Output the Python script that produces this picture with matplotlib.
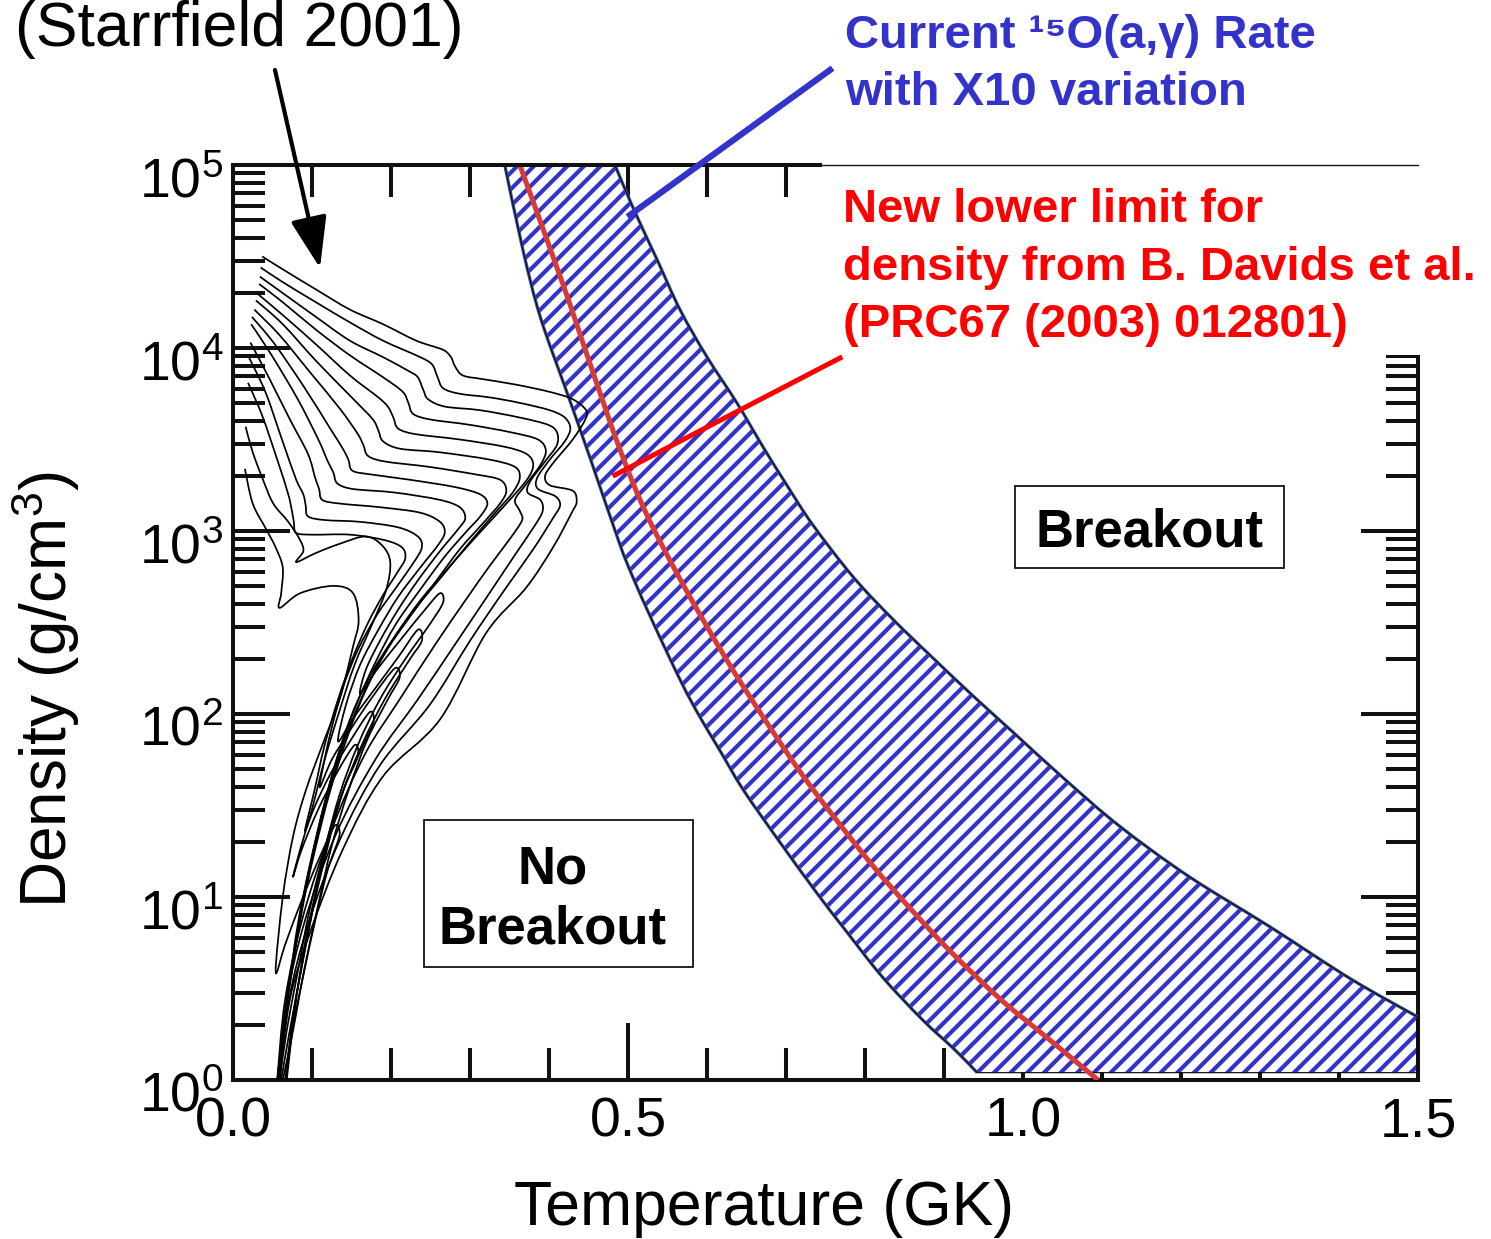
import numpy as np
import matplotlib
matplotlib.use("Agg")
import matplotlib.pyplot as plt
import matplotlib.transforms as mtransforms
from matplotlib.patches import Rectangle, PathPatch
from matplotlib.lines import Line2D
from matplotlib.path import Path
from matplotlib.ticker import FixedLocator, NullFormatter, LogLocator, LogFormatterSciNotation

plt.rcParams['font.family'] = ['Liberation Sans', 'DejaVu Sans']
plt.rcParams['mathtext.fontset'] = 'custom'
plt.rcParams['mathtext.rm'] = 'Liberation Sans'
plt.rcParams['mathtext.it'] = 'Liberation Sans:italic'
plt.rcParams['mathtext.bf'] = 'Liberation Sans:bold'
plt.rcParams['hatch.linewidth'] = 3.0

# ---------------- data (T in GK, L = log10 density in g/cm3) ----------------
band_lo_T = [0.344, 0.367, 0.389, 0.423, 0.452, 0.490, 0.506, 0.532, 0.568, 0.591,
             0.616, 0.646, 0.692, 0.739, 0.775, 0.822, 0.873, 0.914, 0.942]
band_lo_L = [5.0, 4.536, 4.169, 3.754, 3.399, 2.923, 2.749, 2.497, 2.169, 1.984,
             1.803, 1.585, 1.301, 1.022, 0.820, 0.563, 0.328, 0.164, 0.04]
band_hi_T = [0.4835, 0.506, 0.537, 0.566, 0.600, 0.638, 0.671, 0.701, 0.734, 0.785,
             0.835, 0.886, 0.937, 0.987, 1.054, 1.122, 1.209, 1.313, 1.415, 1.500]
band_hi_L = [5.0, 4.770, 4.481, 4.208, 3.951, 3.699, 3.459, 3.251, 3.033, 2.749,
             2.519, 2.306, 2.098, 1.902, 1.639, 1.388, 1.115, 0.836, 0.552, 0.344]
band_floor_L = 0.04

davids_T = [0.363, 0.418, 0.452, 0.490, 0.524, 0.570, 0.625, 0.676, 0.730, 0.806,
            0.858, 0.909, 0.971, 1.028, 1.095]
davids_L = [5.0, 4.344, 3.913, 3.443, 3.087, 2.705, 2.295, 1.951, 1.612, 1.191,
            0.934, 0.699, 0.443, 0.240, 0.0]

c1_T = [0.037, 0.063, 0.105, 0.148, 0.190, 0.232, 0.266, 0.276, 0.281, 0.291, 0.316, 0.358,
        0.401, 0.430, 0.447, 0.446, 0.430, 0.405, 0.395, 0.401, 0.430, 0.435, 0.430, 0.405,
        0.371, 0.320, 0.262, 0.190, 0.139, 0.097, 0.072, 0.059]
c1_L = [4.50, 4.43, 4.32, 4.21, 4.13, 4.04, 3.99, 3.95, 3.90, 3.85, 3.83, 3.80, 3.76, 3.72,
        3.66, 3.61, 3.50, 3.37, 3.30, 3.25, 3.22, 3.16, 3.11, 2.91, 2.69, 2.44, 1.97, 1.66,
        1.26, 0.80, 0.44, 0.00]
c2_T = [0.035, 0.063, 0.105, 0.148, 0.190, 0.237, 0.252, 0.259, 0.266, 0.287, 0.325, 0.363,
        0.401, 0.420, 0.427, 0.420, 0.401, 0.385, 0.386, 0.408, 0.414, 0.405, 0.380, 0.344,
        0.300, 0.249, 0.186, 0.135, 0.095, 0.071, 0.058]
c2_L = [4.44, 4.36, 4.25, 4.14, 4.04, 3.95, 3.91, 3.84, 3.78, 3.75, 3.73, 3.70, 3.66, 3.62,
        3.56, 3.49, 3.39, 3.29, 3.23, 3.19, 3.14, 3.07, 2.90, 2.68, 2.40, 2.05, 1.72, 1.31,
        0.85, 0.44, 0.00]
c3_T = [0.034, 0.063, 0.105, 0.148, 0.190, 0.224, 0.234, 0.241, 0.247, 0.268, 0.313, 0.363,
        0.399, 0.410, 0.410, 0.395, 0.376, 0.373, 0.389, 0.392, 0.382, 0.357, 0.323, 0.281,
        0.234, 0.180, 0.130, 0.091, 0.068, 0.057]
c3_L = [4.39, 4.30, 4.17, 4.04, 3.95, 3.87, 3.84, 3.77, 3.72, 3.68, 3.66, 3.62, 3.58, 3.54,
        3.47, 3.38, 3.27, 3.21, 3.17, 3.11, 3.03, 2.87, 2.65, 2.38, 2.08, 1.75, 1.34, 0.87,
        0.44, 0.00]
c4_T = [0.033, 0.063, 0.105, 0.148, 0.190, 0.215, 0.222, 0.228, 0.249, 0.300, 0.351, 0.386,
        0.396, 0.389, 0.370, 0.357, 0.363, 0.366, 0.351, 0.325, 0.294, 0.256, 0.211, 0.167,
        0.125, 0.089, 0.066, 0.056]
c4_L = [4.35, 4.25, 4.10, 3.96, 3.84, 3.76, 3.70, 3.64, 3.61, 3.58, 3.54, 3.50, 3.44, 3.36,
        3.25, 3.17, 3.11, 3.06, 2.96, 2.81, 2.62, 2.38, 2.08, 1.78, 1.37, 0.90, 0.44, 0.00]
c5_T = [0.030, 0.063, 0.105, 0.148, 0.184, 0.196, 0.203, 0.209, 0.230, 0.287, 0.344, 0.372,
        0.380, 0.372, 0.344, 0.310, 0.275, 0.237, 0.201, 0.171, 0.148, 0.127, 0.108, 0.091,
        0.076, 0.065, 0.058]
c5_L = [4.30, 4.18, 4.02, 3.85, 3.73, 3.68, 3.62, 3.56, 3.53, 3.50, 3.46, 3.42, 3.36, 3.28,
        3.14, 2.98, 2.81, 2.62, 2.40, 2.19, 1.97, 1.69, 1.37, 1.04, 0.66, 0.33, 0.00]
c6_T = [0.029, 0.063, 0.105, 0.148, 0.177, 0.184, 0.190, 0.211, 0.262, 0.325, 0.357, 0.363,
        0.354, 0.332, 0.300, 0.266, 0.228, 0.195, 0.168, 0.146, 0.123, 0.104, 0.087, 0.073,
        0.063, 0.058]
c6_L = [4.26, 4.13, 3.93, 3.74, 3.61, 3.55, 3.49, 3.45, 3.43, 3.39, 3.35, 3.29, 3.21, 3.10,
        2.94, 2.76, 2.56, 2.35, 2.13, 1.89, 1.58, 1.26, 0.93, 0.57, 0.25, 0.00]
c7_T = [0.027, 0.059, 0.097, 0.135, 0.158, 0.165, 0.171, 0.192, 0.249, 0.306, 0.338, 0.346,
        0.338, 0.316, 0.287, 0.256, 0.222, 0.190, 0.163, 0.139, 0.119, 0.100, 0.085, 0.072,
        0.062, 0.057]
c7_L = [4.21, 4.07, 3.87, 3.67, 3.53, 3.47, 3.41, 3.38, 3.35, 3.31, 3.28, 3.22, 3.15, 3.04,
        2.90, 2.72, 2.52, 2.32, 2.09, 1.83, 1.53, 1.20, 0.87, 0.52, 0.22, 0.00]
c8_T = [0.024, 0.053, 0.091, 0.123, 0.139, 0.146, 0.151, 0.173, 0.224, 0.281, 0.313, 0.322,
        0.313, 0.294, 0.268, 0.237, 0.206, 0.180, 0.156, 0.134, 0.115, 0.097, 0.082, 0.070,
        0.061, 0.056]
c8_L = [4.17, 4.02, 3.78, 3.56, 3.45, 3.39, 3.33, 3.31, 3.28, 3.24, 3.20, 3.15, 3.08, 2.99,
        2.86, 2.68, 2.49, 2.28, 2.05, 1.79, 1.50, 1.17, 0.85, 0.49, 0.19, 0.00]
c9_T = [0.023, 0.049, 0.082, 0.108, 0.120, 0.127, 0.132, 0.151, 0.205, 0.262, 0.287, 0.294,
        0.285, 0.262, 0.234, 0.209, 0.186, 0.168, 0.161, 0.180, 0.211, 0.243, 0.262, 0.266,
        0.249, 0.218, 0.186, 0.158, 0.135, 0.116, 0.097, 0.081, 0.068, 0.059]
c9_L = [4.13, 3.96, 3.72, 3.50, 3.38, 3.32, 3.26, 3.23, 3.21, 3.17, 3.13, 3.07, 3.01, 2.89,
        2.73, 2.57, 2.40, 2.24, 2.11, 2.23, 2.40, 2.57, 2.66, 2.61, 2.49, 2.30, 2.08, 1.83,
        1.56, 1.26, 0.93, 0.57, 0.27, 0.00]
c10_T = [0.022, 0.044, 0.072, 0.095, 0.104, 0.109, 0.113, 0.135, 0.186, 0.237, 0.262, 0.268,
         0.259, 0.237, 0.209, 0.184, 0.161, 0.143, 0.133, 0.151, 0.180, 0.209, 0.234, 0.239,
         0.224, 0.192, 0.163, 0.138, 0.119, 0.101, 0.085, 0.071, 0.061]
c10_L = [4.03, 3.85, 3.61, 3.42, 3.29, 3.23, 3.17, 3.15, 3.13, 3.10, 3.05, 2.99, 2.92, 2.80,
         2.64, 2.46, 2.27, 2.05, 1.85, 1.97, 2.14, 2.31, 2.46, 2.40, 2.30, 2.08, 1.83, 1.56,
         1.26, 0.93, 0.57, 0.25, 0.00]
c11_T = [0.020, 0.041, 0.062, 0.080, 0.089, 0.092, 0.095, 0.116, 0.161, 0.209, 0.234, 0.239,
         0.229, 0.208, 0.182, 0.158, 0.138, 0.123, 0.113, 0.110, 0.125, 0.148, 0.176, 0.205,
         0.211, 0.196, 0.170, 0.146, 0.125, 0.108, 0.090, 0.076, 0.063]
c11_L = [3.95, 3.76, 3.50, 3.28, 3.20, 3.14, 3.08, 3.06, 3.05, 3.02, 2.97, 2.91, 2.83, 2.70,
         2.54, 2.35, 2.13, 1.89, 1.69, 1.60, 1.75, 1.91, 2.09, 2.25, 2.20, 2.08, 1.86, 1.58,
         1.28, 0.96, 0.60, 0.27, 0.00]
c12_T = [0.019, 0.037, 0.056, 0.070, 0.075, 0.077, 0.080, 0.100, 0.148, 0.192, 0.214, 0.218,
         0.209, 0.190, 0.170, 0.151, 0.133, 0.116, 0.103, 0.091, 0.104, 0.123, 0.148, 0.173,
         0.178, 0.165, 0.142, 0.123, 0.106, 0.091, 0.077, 0.066]
c12_L = [3.81, 3.63, 3.39, 3.20, 3.10, 3.05, 2.99, 2.98, 2.98, 2.95, 2.91, 2.85, 2.78, 2.65,
         2.49, 2.30, 2.08, 1.83, 1.58, 1.36, 1.50, 1.67, 1.85, 2.01, 1.96, 1.83, 1.61, 1.34,
         1.04, 0.71, 0.38, 0.00]
c13_T = [0.016, 0.025, 0.038, 0.051, 0.070, 0.085, 0.089, 0.080, 0.105, 0.135, 0.168, 0.189,
         0.199, 0.194, 0.176, 0.154, 0.135, 0.116, 0.100, 0.085, 0.076, 0.087, 0.108, 0.133,
         0.154, 0.158, 0.142, 0.123, 0.108, 0.092, 0.080, 0.068]
c13_L = [3.57, 3.43, 3.28, 3.15, 3.05, 2.95, 2.89, 2.83, 2.88, 2.93, 2.97, 2.92, 2.83, 2.68,
         2.49, 2.27, 2.02, 1.75, 1.48, 1.26, 1.11, 1.26, 1.48, 1.69, 1.83, 1.77, 1.61, 1.37,
         1.09, 0.77, 0.44, 0.00]
c14_T = [0.015, 0.025, 0.042, 0.054, 0.063, 0.061, 0.059, 0.085, 0.127, 0.152, 0.159, 0.152,
         0.135, 0.114, 0.092, 0.076, 0.063, 0.054, 0.066, 0.085, 0.108, 0.129, 0.135, 0.120,
         0.104, 0.089, 0.075, 0.067]
c14_L = [3.34, 3.15, 3.01, 2.91, 2.80, 2.66, 2.58, 2.66, 2.70, 2.66, 2.51, 2.37, 2.08, 1.84,
         1.58, 1.33, 1.00, 0.59, 0.74, 0.96, 1.20, 1.39, 1.34, 1.15, 0.87, 0.57, 0.27, 0.00]

x_major = [0.0, 0.5, 1.0, 1.5]
x_major_labels = ['0.0', '0.5', '1.0', '1.5']
x_minor = [0.1, 0.2, 0.3, 0.4, 0.6, 0.7, 0.8, 0.9, 1.1, 1.2, 1.3, 1.4]
y_major = [1, 10, 100, 1000, 10000, 100000]

# ---------------- figure ----------------
W, H = 1491, 1239
fig = plt.figure(figsize=(W / 100, H / 100), dpi=100)
ax = fig.add_axes([233 / W, 1 - 1080 / H, (1418 - 233) / W, (1080 - 165) / H])
ax.set_yscale('log')
ax.set_xlim(0, 1.5)
ax.set_ylim(1, 1e5)

BLUE = '#3333cc'
NAVY = '#34488c'
SX, SY = 790.0, 183.0   # screen scale of one unit of T / log10(rho), used for smoothing


def smooth(T, L):
    """Smooth (Catmull-Rom style) Bezier path through the points, in (T, log rho)."""
    P = np.column_stack([np.asarray(T, float) * SX, np.asarray(L, float) * SY])
    n = len(P)
    verts = [P[0]]
    codes = [Path.MOVETO]
    for i in range(n - 1):
        p0 = P[i - 1] if i > 0 else P[i]
        p1, p2 = P[i], P[i + 1]
        p3 = P[i + 2] if i + 2 < n else P[i + 1]
        seg = np.hypot(*(p2 - p1))
        t1 = (p2 - p0) / 6.0
        t2 = (p3 - p1) / 6.0
        for t in (t1, t2):
            nt = np.hypot(*t)
            if nt > 0.45 * seg and nt > 0:
                t *= 0.45 * seg / nt
        verts += [p1 + t1, p2 - t2, p2]
        codes += [Path.CURVE4] * 3
    V = np.array(verts)
    V[:, 0] /= SX
    V[:, 1] = 10 ** (V[:, 1] / SY)
    return V, codes


# band of current 15O(a,g) rate with x10 variation
vlo, clo = smooth(band_lo_T, band_lo_L)
vhi, chi = smooth(band_hi_T[::-1], band_hi_L[::-1])
chi = [Path.LINETO] + chi[1:]
band_verts = np.vstack([vlo, [[1.5, 10 ** band_floor_L]], vhi, [vlo[0]]])
band_codes = clo + [Path.LINETO] + chi + [Path.CLOSEPOLY]
band_path = Path(band_verts, band_codes)
ax.add_patch(PathPatch(band_path, facecolor='white', edgecolor=BLUE, hatch='//',
                       linewidth=0, zorder=2))
ax.add_patch(PathPatch(band_path, facecolor='none', edgecolor='black', linewidth=0.8, zorder=3))
for Tb, Lb in [(band_lo_T, band_lo_L), (band_hi_T, band_hi_L)]:
    v, c = smooth(Tb, Lb)
    ax.add_patch(PathPatch(Path(v, c), facecolor='none', edgecolor=NAVY, lw=2.3, zorder=3))
    ax.add_patch(PathPatch(Path(v, c), facecolor='none', edgecolor='black', lw=0.6, zorder=3))

# Davids lower limit
v, c = smooth(davids_T, davids_L)
ax.add_patch(PathPatch(Path(v, c), facecolor='none', edgecolor='#db3a34', lw=3.6, zorder=4,
                       capstyle='butt'))

# Starrfield (2001) nova trajectories
curves = [(c1_T, c1_L), (c2_T, c2_L), (c3_T, c3_L), (c4_T, c4_L), (c5_T, c5_L),
          (c6_T, c6_L), (c7_T, c7_L), (c8_T, c8_L), (c9_T, c9_L), (c10_T, c10_L),
          (c11_T, c11_L), (c12_T, c12_L), (c13_T, c13_L), (c14_T, c14_L)]
for ct, cl in curves:
    v, c = smooth(ct, cl)
    ax.add_patch(PathPatch(Path(v, c), facecolor='none', edgecolor='black', lw=1.25,
                           zorder=3, joinstyle='round'))

# ticks
ax.xaxis.set_major_locator(FixedLocator(x_major))
ax.set_xticklabels(x_major_labels)
ax.xaxis.set_minor_locator(FixedLocator(x_minor))
ax.xaxis.set_minor_formatter(NullFormatter())
ax.yaxis.set_major_locator(FixedLocator(y_major))
ax.yaxis.set_major_formatter(LogFormatterSciNotation())
ax.yaxis.set_minor_locator(LogLocator(base=10, subs=range(2, 10), numticks=20))
ax.yaxis.set_minor_formatter(NullFormatter())
ax.tick_params(axis='both', which='both', direction='in', top=True, right=True,
               width=2.9, color='#111111')
ax.tick_params(axis='both', which='major', length=41)
ax.tick_params(axis='both', which='minor', length=23)
ax.tick_params(axis='x', which='major', labelsize=40, pad=12)
ax.tick_params(axis='y', which='major', labelsize=40, pad=7)

for s in ['left', 'bottom', 'right']:
    ax.spines[s].set_linewidth(2.9)
    ax.spines[s].set_color('#111111')
ax.spines['top'].set_linewidth(1.0)
ax.plot([0, 0.746], [1e5, 1e5], color='#111111', lw=2.9, clip_on=False, zorder=6,
        solid_capstyle='butt')

# axis labels
ax.set_xlabel('Temperature (GK)', fontsize=45, va='center')
ax.xaxis.set_label_coords(0.4485, -0.140)
ax.set_ylabel('Density (g/cm$^{3}$)', fontsize=46, va='center')
ax.yaxis.set_label_coords(-0.1586, 0.427)

# region labels
ax.add_patch(Rectangle((0.6599, 0.5596), 0.227, 0.0896, transform=ax.transAxes,
                       facecolor='white', edgecolor='black', lw=1.2, zorder=5))
ax.text(0.7738, 0.598, 'Breakout', transform=ax.transAxes, ha='center', va='center',
        fontsize=38, fontweight='bold', zorder=6)
ax.add_patch(Rectangle((0.1612, 0.1235), 0.227, 0.1607, transform=ax.transAxes,
                       facecolor='white', edgecolor='black', lw=1.2, zorder=5))
ax.text(0.2700, 0.197, 'No\nBreakout', transform=ax.transAxes, ha='center', va='center',
        multialignment='center', linespacing=1.25, fontsize=38, fontweight='bold', zorder=6)

# white cover behind the red annotation (hides upper-right part of the frame)
fig.add_artist(Rectangle((822 / W, 1 - 355 / H), (W - 822) / W, (355 - 162) / H,
                         transform=fig.transFigure, facecolor='white', edgecolor='none',
                         zorder=5))
fig.add_artist(Line2D([0.746, 1.5], [1e5, 1e5], transform=ax.transData, color='#111111',
                      lw=1.0, zorder=6))

# annotations
fig.text(15 / W, 1 - 46 / H, '(Starrfield 2001)', fontsize=45, ha='left',
         va='baseline', zorder=7)
ax.annotate('', xy=(320 / W, 1 - 268 / H), xytext=(275 / W, 1 - 70 / H),
            xycoords='figure fraction', textcoords='figure fraction',
            arrowprops=dict(arrowstyle='-|>,head_length=0.7,head_width=0.25',
                            lw=3, color='black', mutation_scale=45, shrinkA=0, shrinkB=0),
            annotation_clip=False, zorder=7)

fig.text(845 / W, 1 - 48 / H, 'Current \u00b9\u2075O(a,\u03b3) Rate', fontsize=34,
         fontweight='bold', color=BLUE, va='baseline', zorder=7)
fig.text(845 / W, 1 - 105 / H, 'with X10 variation', fontsize=34,
         fontweight='bold', color=BLUE, va='baseline', zorder=7)
fig.add_artist(Line2D([630 / W, 830 / W], [1 - 215 / H, 1 - 70 / H], transform=fig.transFigure,
                      color=BLUE, lw=4.5, zorder=7))

for txt, yb in [('New lower limit for', 222), ('density from B. Davids et al.', 280),
                ('(PRC67 (2003) 012801)', 337)]:
    fig.text(843 / W, 1 - yb / H, txt, fontsize=34, fontweight='bold', color='#ff0000',
             va='baseline', zorder=7)
fig.add_artist(Line2D([615 / W, 840 / W], [1 - 475 / H, 1 - 358 / H], transform=fig.transFigure,
                      color='#ff0000', lw=3.6, zorder=7))

# shift the y tick labels slightly downward, as in the original
fig.canvas.draw()
shift = mtransforms.ScaledTranslation(0, -0.12, fig.dpi_scale_trans)
for lab in ax.get_yticklabels():
    lab.set_transform(lab.get_transform() + shift)

fig.savefig('out.png', dpi=100, facecolor='white')
